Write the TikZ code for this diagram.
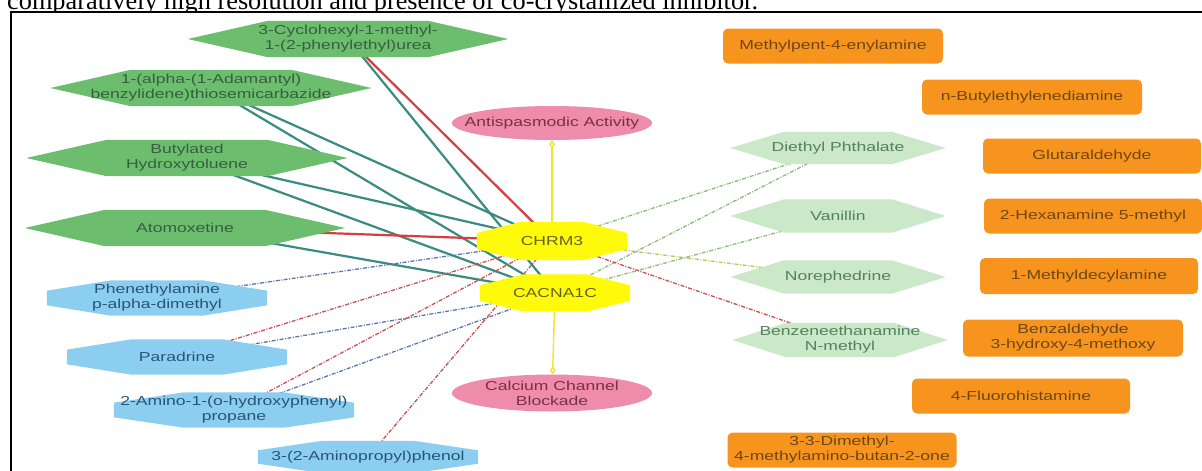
\documentclass[tikz,border=0pt]{standalone}
\usepackage{fontspec}
\setmainfont{Liberation Serif}
\newfontfamily\labfont[FakeStretch=1.35]{Liberation Sans}
\usetikzlibrary{calc,arrows.meta}
\pgfdeclarelayer{frame}
\pgfdeclarelayer{edges}
\pgfdeclarelayer{shapes}
\pgfsetlayers{frame,edges,shapes,main}
\definecolor{dkgfill}{RGB}{108,190,110}
\definecolor{dkgtext}{RGB}{52,96,62}
\definecolor{ltgfill}{RGB}{203,232,200}
\definecolor{ltgtext}{RGB}{84,130,94}
\definecolor{blufill}{RGB}{140,206,240}
\definecolor{blutext}{RGB}{40,84,118}
\definecolor{yelfill}{RGB}{255,250,10}
\definecolor{yeltext}{RGB}{100,100,30}
\definecolor{pnkfill}{RGB}{240,140,171}
\definecolor{pnktext}{RGB}{120,48,72}
\definecolor{orgfill}{RGB}{247,148,30}
\definecolor{orgtext}{RGB}{110,70,22}
\definecolor{tealedge}{RGB}{58,140,128}
\definecolor{rededge}{RGB}{214,62,68}
\definecolor{bluedash}{RGB}{92,118,178}
\definecolor{reddash}{RGB}{200,82,82}
\definecolor{grndash}{RGB}{140,190,120}
\definecolor{ygdash}{RGB}{180,200,100}
\definecolor{yeledge}{RGB}{240,230,40}
\begin{document}
\begin{tikzpicture}[x=1pt,y=-1pt,
  lab/.style={font=\labfont\fontsize{13}{15}\selectfont, align=center, inner sep=0pt},
  dkg/.style={lab, text=dkgtext},
  ltg/.style={lab, text=ltgtext},
  blu/.style={lab, text=blutext},
  yel/.style={lab, text=yeltext},
  pnk/.style={lab, text=pnktext},
  org/.style={lab, text=orgtext, fill=orgfill, rounded corners=5pt},
  solidteal/.style={draw=tealedge, line width=2.2pt},
  solidred/.style={draw=rededge, line width=2.2pt},
  dsh/.style={line width=1.3pt, dash pattern=on 4pt off 1.5pt on 1pt off 1.5pt},
  bdash/.style={dsh, draw=bluedash},
  rdash/.style={dsh, draw=reddash},
  gdash/.style={dsh, draw=grndash},
  ygd/.style={dsh, draw=ygdash},
  yarrow/.style={draw=yeledge, line width=1.4pt, -{Diamond[open, length=8pt, width=6pt]}}
]
\useasboundingbox (0,0) rectangle (1202,471);

% ---------- dark green ----------
\node[dkg, minimum width=320pt, minimum height=36pt] (g1) at (348,39) {3-Cyclohexyl-1-methyl-\\1-(2-phenylethyl)urea};
\node[dkg, minimum width=321pt, minimum height=36pt] (g2) at (211,88) {1-(alpha-(1-Adamantyl)\\benzylidene)thiosemicarbazide};
\node[dkg, minimum width=321pt, minimum height=36pt] (g3) at (187,158) {Butylated\\Hydroxytoluene};
\node[dkg, minimum width=320pt, minimum height=36pt] (g4) at (185,228) {Atomoxetine};
% ---------- blue ----------
\node[blu, minimum width=220pt, minimum height=35pt] (b1) at (157,298) {Phenethylamine\\p-alpha-dimethyl};
\node[blu, minimum width=220pt, minimum height=35pt] (b2) at (177,357) {Paradrine};
\node[blu, minimum width=240pt, minimum height=35pt] (b3) at (234,410) {2-Amino-1-(o-hydroxyphenyl)\\propane};
\node[blu, minimum width=220pt, minimum height=32pt] (b4) at (368,457) {3-(2-Aminopropyl)phenol};
% ---------- light green ----------
\node[ltg, minimum width=215pt, minimum height=32pt] (l1) at (838,148) {Diethyl Phthalate};
\node[ltg, minimum width=215pt, minimum height=33pt] (l2) at (838,216) {Vanillin};
\node[ltg, minimum width=215pt, minimum height=33pt] (l3) at (838,277) {Norephedrine};
\node[ltg, minimum width=215pt, minimum height=34pt] (l4) at (840,340) {Benzeneethanamine\\N-methyl};
% ---------- targets ----------
\node[yel, minimum width=150pt, minimum height=38pt] (chrm) at (552,241) {CHRM3};
\node[yel, minimum width=150pt, minimum height=37pt] (cac) at (555,293) {CACNA1C};
% ---------- effects ----------
\node[pnk, minimum width=200pt, minimum height=34pt] (anti) at (552,123) {Antispasmodic Activity};
\node[pnk, minimum width=200pt, minimum height=37pt] (calc) at (552,393) {Calcium Channel\\Blockade};
% ---------- orange ----------
\node[org, minimum width=220pt, minimum height=35pt] (o1) at (833,46) {Methylpent-4-enylamine};
\node[org, minimum width=220pt, minimum height=35pt] (o2) at (1032,97) {n-Butylethylenediamine};
\node[org, minimum width=218pt, minimum height=35pt] (o3) at (1092,156) {Glutaraldehyde};
\node[org, minimum width=218pt, minimum height=35pt] (o4) at (1093,216) {2-Hexanamine 5-methyl};
\node[org, minimum width=218pt, minimum height=36pt] (o5) at (1089,276) {1-Methyldecylamine};
\node[org, minimum width=220pt, minimum height=37pt] (o6) at (1073,338) {Benzaldehyde\\3-hydroxy-4-methoxy};
\node[org, minimum width=218pt, minimum height=35pt] (o7) at (1021,396) {4-Fluorohistamine};
\node[org, minimum width=229pt, minimum height=35pt] (o8) at (842,450) {3-3-Dimethyl-\\4-methylamino-butan-2-one};

% ---------- shapes ----------
\begin{pgfonlayer}{shapes}
\foreach \n/\c in {g1/dkgfill, g2/dkgfill, g3/dkgfill, g4/dkgfill, l1/ltgfill, l2/ltgfill, l3/ltgfill, l4/ltgfill}
  \fill[\c] (\n.west) -- ($(\n.north west)!.25!(\n.north east)$) -- ($(\n.north west)!.75!(\n.north east)$) -- (\n.east) -- ($(\n.south west)!.75!(\n.south east)$) -- ($(\n.south west)!.25!(\n.south east)$) -- cycle;
\foreach \n/\c in {b1/blufill, b2/blufill, b3/blufill, b4/blufill, chrm/yelfill, cac/yelfill}
  \fill[\c] ($(\n.west)!.414!(\n.north west)$) -- ($(\n.north west)!.293!(\n.north east)$) -- ($(\n.north west)!.707!(\n.north east)$) -- ($(\n.east)!.414!(\n.north east)$) -- ($(\n.east)!.414!(\n.south east)$) -- ($(\n.south west)!.707!(\n.south east)$) -- ($(\n.south west)!.293!(\n.south east)$) -- ($(\n.west)!.414!(\n.south west)$) -- cycle;
\fill[pnkfill] (anti.center) ellipse [x radius=100pt, y radius=17pt];
\fill[pnkfill] (calc.center) ellipse [x radius=100pt, y radius=18.5pt];
\end{pgfonlayer}

% ---------- edges ----------
\begin{pgfonlayer}{edges}
\draw[solidred]  (g1.center) -- (chrm.center);
\draw[solidteal] (g1.center) -- (cac.center);
\draw[solidteal] (g2.center) -- (chrm.center);
\draw[solidteal] (g2.center) -- (cac.center);
\draw[solidteal] (g3.center) -- (chrm.center);
\draw[solidteal] (g3.center) -- (cac.center);
\draw[solidred]  (g4.center) -- (chrm.center);
\draw[solidteal] (g4.center) -- (cac.center);
\draw[bdash] (b1.center) -- (chrm.center);
\draw[rdash] (b2.center) -- (chrm.center);
\draw[bdash] (b2.center) -- (cac.center);
\draw[rdash] (b3.center) -- (chrm.center);
\draw[bdash] (b3.center) -- (cac.center);
\draw[rdash] (b4.center) -- (chrm.center);
\draw[gdash] (chrm.center) -- (l1.center);
\draw[gdash] (cac.center) -- (l1.center);
\draw[gdash] (cac.center) -- (l2.center);
\draw[ygd]   (chrm.center) -- (l3.center);
\draw[rdash] (chrm.center) -- (l4.center);
\draw[yarrow] (chrm) -- (anti);
\draw[yarrow] (cac) -- (calc);
\end{pgfonlayer}

% ---------- caption and frame ----------
\begin{pgfonlayer}{frame}
\node[anchor=base west, inner sep=0pt, font=\fontsize{26.3}{30}\selectfont] (cap) at (7,9.5) {comparatively high resolution and presence of co-crystallized inhibitor.};
\draw[line width=2pt, fill=white] (10.5,12) rectangle (1230,490);
\end{pgfonlayer}
\end{tikzpicture}
\end{document}
